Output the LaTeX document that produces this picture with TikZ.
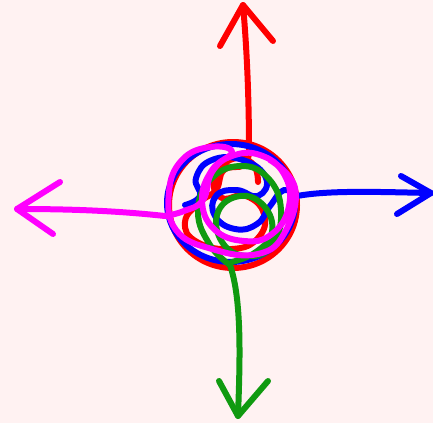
\documentclass[tikz,border=0pt]{standalone}
\usetikzlibrary{calc}
\definecolor{bgpink}{HTML}{FFF2F2}
\definecolor{scred}{HTML}{FF0000}
\definecolor{scblue}{HTML}{0000FF}
\definecolor{scgreen}{HTML}{109A10}
\definecolor{scmagenta}{HTML}{FF00FF}
\tikzset{
  scribble/.style={line width=6pt,line cap=round,line join=round},
}

\begin{document}
\begin{tikzpicture}[x=1pt,y=-1pt]
  \useasboundingbox (0,0) rectangle (433,423);
  \fill[bgpink] (0,0) rectangle (433,423);

  % arrow tips and wings
  \coordinate (redtip) at (243,5);
  \coordinate (redwingA) at (220,46);
  \coordinate (redwingB) at (273,41);
  \coordinate (bluetip) at (431,193);
  \coordinate (bluewingA) at (401,176);
  \coordinate (bluewingB) at (397,214);
  \coordinate (magtip) at (17,209);
  \coordinate (magwingA) at (60,182);
  \coordinate (magwingB) at (53,234);
  \coordinate (greentip) at (238,416);
  \coordinate (greenwingA) at (219,381);
  \coordinate (greenwingB) at (268,381);

  % Red
  \draw[scribble,scred] (233,205) ellipse [x radius=64, y radius=63];
  \draw[scribble,scred] plot[smooth,tension=0.8] coordinates
    {(249,150) (244,165) (224,170) (216,190) (200,202) (185,222) (197,242) (232,249)
     (258,238) (264,214) (246,196) (222,198) (214,180) (230,160) (252,163) (258,182)};
  \draw[scribble,scred] (249,150) .. controls (249,100) and (247,50) .. (redtip);
  \draw[scribble,scred] (redwingA) -- (redtip) -- (redwingB);

  % Blue
  \draw[scribble,scblue] (231,203) ellipse [x radius=64, y radius=59];
  \draw[scribble,scblue] plot[smooth,tension=0.8] coordinates
    {(297,196) (284,190) (270,206) (257,224) (235,229) (215,216) (216,196) (236,190)
     (258,196) (266,178) (243,160) (212,160) (196,178) (200,196) (185,205)};
  \draw[scribble,scblue] (297,196) .. controls (330,190) and (380,192) .. (bluetip);
  \draw[scribble,scblue] (bluewingA) -- (bluetip) -- (bluewingB);

  % Green
  \draw[scribble,scgreen] plot[smooth,tension=0.75] coordinates
    {(230,265) (210,245) (198,212) (210,180) (240,166) (268,178) (281,210) (272,246)
     (246,256) (222,242) (218,212) (240,196) (264,206) (272,232) (256,252) (232,262)};
  \draw[scribble,scgreen] (230,265) .. controls (242,300) and (240,360) .. (greentip);
  \draw[scribble,scgreen] (greenwingA) -- (greentip) -- (greenwingB);

  % Magenta
  \draw[scribble,scmagenta] plot[smooth,tension=0.75] coordinates
    {(165,216) (184,211) (203,200) (212,172) (232,156) (260,155) (284,174) (289,206)
     (272,234) (244,241) (214,229) (202,200) (212,170) (232,152) (210,147) (182,160)
     (169,192) (176,230) (212,249) (258,254) (285,232) (295,188) (270,160)};
  \draw[scribble,scmagenta] (165,216) .. controls (110,210) and (60,209) .. (magtip);
  \draw[scribble,scmagenta] (magwingA) -- (magtip) -- (magwingB);
\end{tikzpicture}
\end{document}
